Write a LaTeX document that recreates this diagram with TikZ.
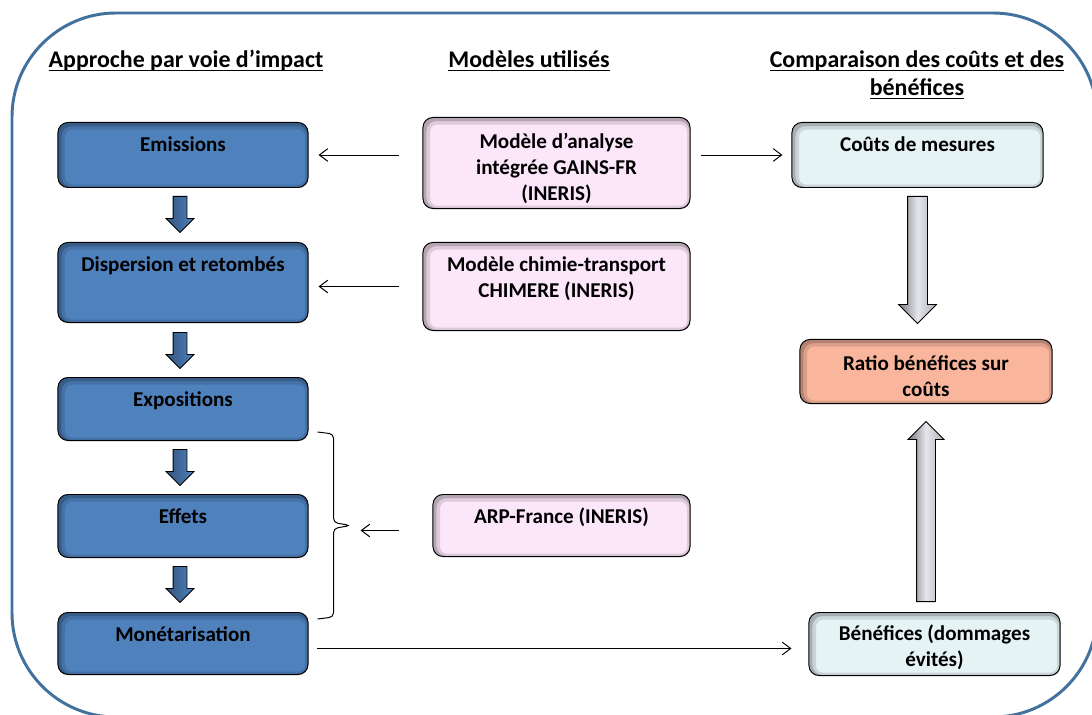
\documentclass[tikz,border=0pt]{standalone}
\usepackage{fontspec}
\setmainfont{Carlito}
\usepackage{tikz}
\usetikzlibrary{calc}
\usetikzlibrary{shapes.arrows}
\usetikzlibrary{arrows.meta}
\definecolor{framecol}{RGB}{65,113,156}
\definecolor{boxblue}{RGB}{79,129,189}
\definecolor{boxpink}{RGB}{252,230,250}
\definecolor{boxcyan}{RGB}{230,243,245}
\definecolor{boxsalmon}{RGB}{250,182,157}
\definecolor{arrowgray}{RGB}{218,218,228}
\newsavebox{\ulbox}
\newcommand{\ulined}[1]{\sbox{\ulbox}{#1}\rlap{\rule[-2.4pt]{\wd\ulbox}{1.2pt}}\usebox{\ulbox}}
\tikzset{
  box/.style={draw=black, line width=0.7pt, rounded corners=0.25cm, anchor=north,
    inner xsep=0pt, inner ysep=0pt, align=center,
    font=\fontsize{15}{18.5}\selectfont\bfseries,
    path picture={
      \draw[black, opacity=0.12, line width=7pt, rounded corners=0.3cm]
        ([shift={(1.5pt,-1.5pt)}]path picture bounding box.south west) rectangle
        ([shift={(1.5pt,-1.5pt)}]path picture bounding box.north east);
      \draw[black, opacity=0.18, line width=3pt, rounded corners=0.3cm]
        ([shift={(1pt,-1pt)}]path picture bounding box.south west) rectangle
        ([shift={(1pt,-1pt)}]path picture bounding box.north east);
    }},
  bluebox/.style={box, fill=boxblue, minimum width=6.25cm, text height=0.725cm, text depth=#1},
  bluebox/.default=0.9cm,
  blockarrow/.style={single arrow, draw=black, line width=0.6pt,
    anchor=tail, single arrow tip angle=90},
  bluearrow/.style={blockarrow, left color=boxblue!65!black, right color=boxblue,
    shape border rotate=270, inner sep=0.1625cm, minimum height=0.9cm,
    single arrow head extend=0.175cm},
  grayarrow/.style={blockarrow, left color=arrowgray!55!black, right color=arrowgray!80!black,
    middle color=arrowgray!70!white},
  heading/.style={inner sep=0pt, align=center, anchor=base,
    font=\fontsize{17}{20}\selectfont\bfseries},
  thinarrow/.style={-{Straight Barb[length=6pt,width=9pt]}, line width=0.7pt}
}
\begin{document}
\begin{tikzpicture}[x=0.025cm, y=-0.025cm]
    \useasboundingbox (0,0) rectangle (1092,715);
    \clip (0,0) rectangle (1092,715);

    % Frame
    \draw[framecol, line width=2.1pt, rounded corners=2.6cm] (12,13) rectangle (1097,717);

    % Headings
    \node[heading] (hleft) at (186,68) {\ulined{Approche par voie d’impact}};
    \node[heading] (hmid) at (529,68) {\ulined{Modèles utilisés}};
    \node[heading] (hright) at (917,96) {\ulined{Comparaison des coûts et des}\\\ulined{bénéfices}};

    % Impact pathway
    \node[bluebox] (emis) at (183,122) {Emissions};
    \node[bluebox=1.275cm] (disp) at (183,242) {Dispersion et retombés};
    \node[bluebox=0.85cm] (expo) at (183,377) {Expositions};
    \node[bluebox=0.85cm] (effets) at (183,494) {Effets};
    \node[bluebox=0.825cm] (monet) at (183,612) {Monétarisation};

    \node[bluearrow] (a1) at ([shift={(-3,8)}]emis.south) {};
    \node[bluearrow] (a2) at ([shift={(-3,9)}]disp.south) {};
    \node[bluearrow] (a3) at ([shift={(-3,8)}]expo.south) {};
    \node[bluearrow] (a4) at ([shift={(-3,8)}]effets.south) {};

    % Models
    \node[box, fill=boxpink, minimum width=6.675cm, text height=2.075cm, text depth=0.2cm] (gains)
      at (556.5,117) {Modèle d’analyse\\intégrée GAINS-FR\\(INERIS)};
    \node[box, fill=boxpink, minimum width=6.675cm, text height=1.375cm, text depth=0.825cm] (chim)
      at (556.5,242) {Modèle chimie-transport\\CHIMERE (INERIS)};
    \node[box, fill=boxpink, minimum width=6.425cm, text height=0.725cm, text depth=0.825cm] (arp)
      at (561.5,494) {ARP-France (INERIS)};

    % Costs and benefits
    \node[box, fill=boxcyan, minimum width=6.275cm, text height=0.725cm, text depth=0.9cm] (couts)
      at (917.5,122) {Coûts de mesures};
    \node[box, fill=boxsalmon, minimum width=6.3cm, text height=1.425cm, text depth=0.175cm] (ratio)
      at (926,339) {Ratio bénéfices sur\\coûts};
    \node[box, fill=boxcyan, minimum width=6.275cm, text height=1.35cm, text depth=0.225cm] (benef)
      at (934.5,612) {Bénéfices (dommages\\évités)};

    \node[grayarrow, shape border rotate=270, inner sep=0.2375cm, minimum height=3.175cm,
      single arrow head extend=0.225cm] (down) at ([shift={(0,8)}]couts.south) {};
    \node[grayarrow, shape border rotate=90, inner sep=0.225cm, minimum height=4.5cm,
      single arrow head extend=0.2125cm] (up) at ($(ratio.south |- benef.north)+(0,-10)$) {};

    % Brace
    \coordinate (brtop) at ($(expo.south east)+(9,-9)$);
    \coordinate (brbot) at ($(monet.north east)+(9,7)$);
    \coordinate (brmid) at ($(brtop)!0.5!(brbot)+(16,0)$);
    \coordinate (brtip) at ($(brmid)+(17,0)$);
    \draw[line width=0.7pt, rounded corners=3pt] (brtop) -- ++(16,2) -- ($(brmid)+(0,-3)$)
      -- (brtip) -- ($(brmid)+(0,3)$) -- ($(brbot)+(16,-2)$) -- (brbot);

    % Thin arrows
    \draw[thinarrow, shorten <=0.575cm, shorten >=0.25cm] (gains.west |- emis.east) -- (emis.east);
    \draw[thinarrow, shorten <=0.25cm, shorten >=0.225cm] (gains.east |- couts.west) -- (couts.west);
    \draw[thinarrow, shorten <=0.575cm, shorten >=0.25cm] (chim.west) -- (chim.west -| disp.east);
    \draw[thinarrow, shorten <=0.825cm, shorten >=0.25cm] ($(arp.west)+(0,5)$) -- ($(arp.west -| brtip)+(0,5)$);
    \draw[thinarrow, shorten <=0.2cm, shorten >=0.425cm] ($(monet.east)+(0,5)$) -- ($(monet.east -| benef.west)+(0,5)$);
\end{tikzpicture}
\end{document}
